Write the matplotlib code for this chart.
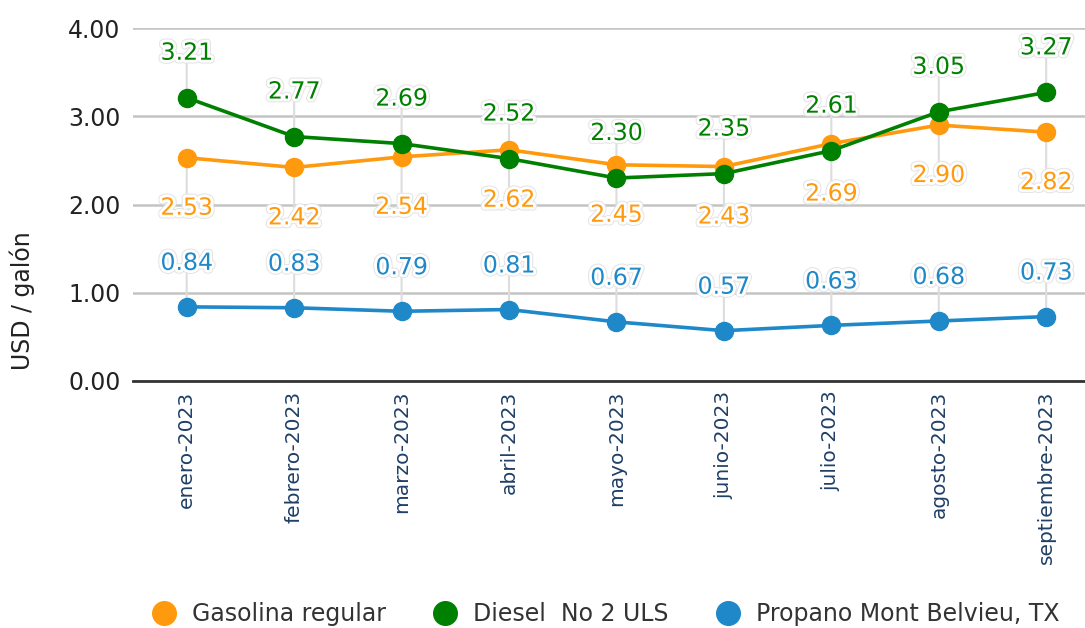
import numpy as np
import matplotlib.pyplot as plt
import matplotlib.patheffects as pe

meses = ["enero-2023", "febrero-2023", "marzo-2023", "abril-2023", "mayo-2023",
         "junio-2023", "julio-2023", "agosto-2023", "septiembre-2023"]
gasolina = [2.53, 2.42, 2.54, 2.62, 2.45, 2.43, 2.69, 2.90, 2.82]
diesel = [3.21, 2.77, 2.69, 2.52, 2.30, 2.35, 2.61, 3.05, 3.27]
propano = [0.84, 0.83, 0.79, 0.81, 0.67, 0.57, 0.63, 0.68, 0.73]

c_gas = "#FF9A0F"
c_die = "#008000"
c_pro = "#1E88C8"

plt.rcParams["font.family"] = ["DejaVu Sans"]

fig = plt.figure(figsize=(10.85, 6.28), dpi=100)
ax = fig.add_axes([133 / 1085, 1 - 381 / 628, 1 - 133 / 1085, 353 / 628])

x = np.arange(len(meses))
series = [
    ("Gasolina regular", gasolina, c_gas, -50),
    ("Diesel  No 2 ULS", diesel, c_die, 45),
    ("Propano Mont Belvieu, TX", propano, c_pro, 44),
]

halo = [pe.withStroke(linewidth=5.5, foreground="#e4e4e4"),
        pe.withStroke(linewidth=4, foreground="white")]

# connectors first so they sit under the lines
for name, vals, col, off in series:
    for xi, v in zip(x, vals):
        ax.annotate("", xy=(xi, v), xytext=(0, off - np.sign(off) * 10),
                    xycoords="data", textcoords="offset pixels",
                    arrowprops=dict(arrowstyle="-", color="#dddddd", lw=1.5,
                                    shrinkA=0, shrinkB=0), zorder=1)

for name, vals, col, off in series:
    ax.plot(x, vals, color=col, lw=2.6, marker="o", markersize=13,
            label=name, zorder=3)
    for xi, v in zip(x, vals):
        ax.annotate(f"{v:.2f}", xy=(xi, v), xytext=(0, off),
                    textcoords="offset pixels", ha="center", va="center",
                    fontsize=17, color=col, path_effects=halo, zorder=5)

ax.set_xlim(-0.5, (1085 - 187) / 107.4)
ax.set_ylim(0, 4)
ax.set_yticks([0, 1, 2, 3, 4])
ax.set_yticklabels([f"{t:.2f}" for t in [0, 1, 2, 3, 4]], fontsize=17, color="#222222")
ax.set_xticks(x)
ax.set_xticklabels(meses, rotation=90, fontsize=14.5, color="#1F3F66")
ax.tick_params(axis="both", length=0)
ax.tick_params(axis="y", pad=9)
ax.tick_params(axis="x", pad=7)

ax.grid(axis="y", color="#c4c4c4", lw=1.8, zorder=0)
ax.set_axisbelow(True)
for s in ["top", "right", "left"]:
    ax.spines[s].set_visible(False)
ax.spines["bottom"].set_color("#333333")
ax.spines["bottom"].set_linewidth(2)
ax.spines["bottom"].set_zorder(2)

fig.text(22 / 1085, 1 - 301 / 628, "USD / galón", rotation=90, ha="center",
         va="center", fontsize=17, color="#222222")

handles = [plt.Line2D([], [], ls="", marker="o", markersize=17, color=c)
           for c in [c_gas, c_die, c_pro]]
fig.legend(handles, [s[0] for s in series], loc="center",
           bbox_to_anchor=(600 / 1085, 1 - 614 / 628), ncol=3, frameon=False,
           fontsize=17, handletextpad=0.2, columnspacing=1.5,
           labelcolor="#333333")

fig.savefig("out.png", dpi=100)
